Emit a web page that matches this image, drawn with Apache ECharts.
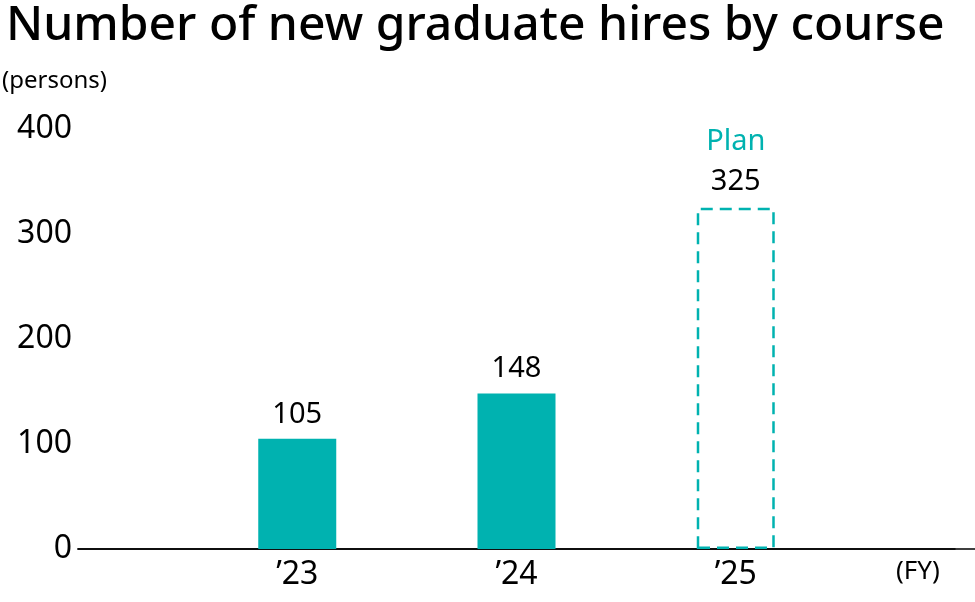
<!DOCTYPE html>
<html>
<head>
<meta charset="utf-8">
<script src="https://cdn.jsdelivr.net/npm/echarts@6/dist/echarts.min.js"></script>
<style>
  html, body { margin: 0; padding: 0; background: #fff; }
  #main { width: 975px; height: 602px; }
</style>
</head>
<body>
<div id="main"></div>
<script>
var categories = ['', "’23", "’24", "’25", ''];
var actualValues = ['-', 105, 148, '-', '-'];
var planValues = ['-', '-', '-', 325, '-'];
var yTicks = [0, 100, 200, 300, 400];

var teal = '#00b2b0';
var font = 'Noto Sans';

var chart = echarts.init(document.getElementById('main'));

var option = {
  animation: false,
  title: {
    text: 'Number of new graduate hires by course',
    left: 1,
    top: -3,
    textStyle: { fontFamily: font, fontSize: 48, fontWeight: 500, color: '#000' }
  },
  grid: [
    { left: 78, right: 20, top: 129, bottom: 53, outerBoundsMode: 'none' },
    // second grid only carries the baseline out to the right edge
    { left: 78, right: 0, top: 129, bottom: 53, outerBoundsMode: 'none' }
  ],
  xAxis: [{
    type: 'category',
    gridIndex: 0,
    data: categories,
    boundaryGap: false,
    axisLine: { lineStyle: { color: '#000', width: 1.5 } },
    axisTick: { show: false },
    axisLabel: { fontFamily: font, fontSize: 32, color: '#000', margin: 10 }
  }, {
    type: 'category',
    gridIndex: 1,
    data: [''],
    axisLine: { show: true, onZero: false, lineStyle: { color: '#000', width: 1.5 } },
    axisTick: { show: false },
    axisLabel: { show: false },
    splitLine: { show: false }
  }],
  yAxis: [{
    type: 'value',
    gridIndex: 0,
    min: yTicks[0],
    max: yTicks[yTicks.length - 1],
    interval: 100,
    axisLine: { show: false },
    axisTick: { show: false },
    splitLine: { show: false },
    axisLabel: { fontFamily: font, fontSize: 32, color: '#000', margin: 6 }
  }, {
    type: 'value',
    gridIndex: 1,
    min: 0,
    max: 1,
    axisLine: { show: false },
    axisTick: { show: false },
    axisLabel: { show: false },
    splitLine: { show: false }
  }],
  graphic: [
    { type: 'text', left: 2, top: 69, style: { text: '(persons)', font: '24px "Noto Sans"', fill: '#000' } },
    { type: 'text', left: 896, top: 559, style: { text: '(FY)', font: '26px "Noto Sans"', fill: '#000' } }
  ],
  series: [{
    name: 'Actual',
    type: 'bar',
    xAxisIndex: 0,
    yAxisIndex: 0,
    stack: 'hires',
    barWidth: 78,
    data: actualValues,
    itemStyle: { color: teal },
    label: {
      show: true,
      position: 'top',
      distance: 10,
      fontFamily: font,
      fontSize: 29,
      color: '#000'
    }
  }, {
    name: 'Plan',
    type: 'bar',
    xAxisIndex: 0,
    yAxisIndex: 0,
    stack: 'hires',
    barWidth: 78,
    data: planValues,
    itemStyle: {
      color: 'rgba(0,0,0,0)',
      borderColor: teal,
      borderWidth: 2.5,
      borderType: [12, 7]
    },
    label: {
      show: true,
      position: 'top',
      distance: 8,
      fontFamily: font,
      formatter: '{p|Plan}\n{v|{c}}',
      rich: {
        p: { fontFamily: font, fontSize: 29, color: teal, lineHeight: 44 },
        v: { fontFamily: font, fontSize: 29, color: '#000', lineHeight: 36 }
      }
    }
  }, {
    name: 'axisExtent',
    type: 'bar',
    xAxisIndex: 1,
    yAxisIndex: 1,
    data: ['-'],
    silent: true
  }]
};

chart.setOption(option);
</script>
</body>
</html>
